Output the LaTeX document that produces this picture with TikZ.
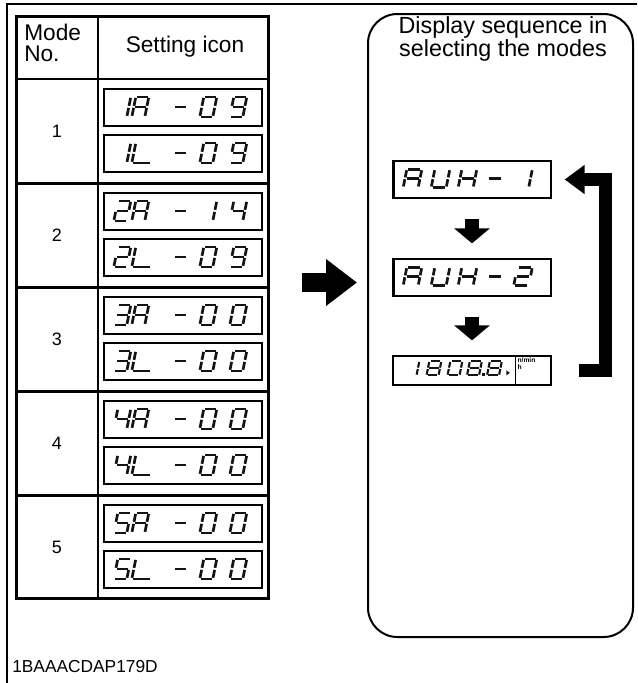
\documentclass[tikz,border=0pt]{standalone}
\usepackage{fontspec}
\setmainfont{Liberation Sans}
\usetikzlibrary{arrows.meta,calc,positioning}

\definecolor{lcdink}{RGB}{20,20,20}

%% seven-segment cell, 10 x 20, y running downwards
\def\sega{(1,0) -- (9,0)}
\def\segb{(10,1) -- (10,9)}
\def\segc{(10,11) -- (10,19)}
\def\segd{(1,20) -- (9,20)}
\def\segD{(1,20) -- (14,20)}
\def\sege{(0,11) -- (0,19)}
\def\segf{(0,1) -- (0,9)}
\def\segg{(1,10) -- (9,10)}

\newcommand\deflcd[2]{\expandafter\def\csname lcd#1\endcsname{#2}}
\deflcd{0}{a,b,c,d,e,f}
\deflcd{1}{b,c}
\deflcd{2}{a,b,g,e,d}
\deflcd{3}{a,b,g,c,d}
\deflcd{4}{f,g,b,c}
\deflcd{5}{a,f,g,c,d}
\deflcd{8}{a,b,c,d,e,f,g}
\deflcd{9}{a,b,c,d,f,g}
\deflcd{A}{a,b,c,e,f,g}
\deflcd{L}{f,e,D}
\deflcd{U}{b,c,d,e,f}
\deflcd{H}{b,c,e,f,g}
\deflcd{-}{g}

%% #1 top left, #2 xscale, #3 yscale, #4 character
\newcommand\lcdchar[4]{%
  \edef\lcdsegs{\csname lcd#4\endcsname}%
  \begin{scope}[shift={#1},xslant=0.2,xscale=#2,yscale=#3]
    \foreach \sg in \lcdsegs {\draw[lcdseg] \csname seg\sg\endcsname;}
  \end{scope}}

%% one setting icon: node name, then the four digits
\newcommand\iconline[5]{%
  \foreach \dx/\ch in {14.5/#2,32.5/#3,72.5/-,100.5/#4,130.5/#5}
    {\lcdchar{($(#1.north west)+(\dx,8.5)$)}{1.3}{1}{\ch}}}

\begin{document}
\begin{tikzpicture}[x=0.75pt,y=-0.75pt,>=Stealth,
  tablerule/.style={line width=2.25pt},
  thinrule/.style={line width=1.5pt},
  headtext/.style={font=\fontsize{17}{15.75}\selectfont,inner sep=0pt},
  titletext/.style={font=\fontsize{17.5}{15.75}\selectfont,inner sep=0pt,align=center},
  rownum/.style={font=\fontsize{13.5}{15}\selectfont,inner sep=0pt},
  lcdbox/.style={draw,line width=1pt,minimum width=118.5pt,minimum height=27.75pt,inner sep=0pt},
  lcdseg/.style={lcdink,line width=2pt},
  panelbox/.style={draw,line width=1.5pt,rounded corners=22pt,inner sep=0pt,
    minimum width=198.75pt,minimum height=467.25pt},
  blockarrow/.style={line width=10.5pt,-{Triangle[length=11.25pt,width=26.25pt]}},
  feedarrow/.style={line width=14.25pt,-{Triangle[length=23.25pt,width=33.75pt]}},
  backarrow/.style={line width=9.75pt,miter limit=10,-{Triangle[length=15pt,width=21pt]}}]

\useasboundingbox (0,0) rectangle (637,683);

%% ── page frame ───────────────────────────────────────────────────────────────
\draw[line width=1.1pt] (7,683) -- (7,4) -- (637,4);

%% ════════════════════════════════════════════════════════════════════════════
%%  TABLE — modes and setting icons
%% ════════════════════════════════════════════════════════════════════════════
\draw[tablerule] (16,16) rectangle (268,598);
\draw[thinrule] (98,16) -- (98,598);
\draw[thinrule] (16,79) -- (268,79);
\foreach \y in {183,287,391,495}
  \draw[tablerule] (16,\y) -- (268,\y);

\node[headtext,anchor=north west,align=left] (modehead) at (24,23.5) {Mode\\No.};
\node[headtext,anchor=base] (iconhead) at (185,52) {Setting icon};

%% rows: number, top, right icon digits, left icon digits
\foreach \n/\rowy/\ra/\rb/\rc/\rd/\lc/\ld in
  {1/79/1/A/0/9/0/9, 2/183/2/A/1/4/0/9, 3/287/3/A/0/0/0/0,
   4/391/4/A/0/0/0/0, 5/495/5/A/0/0/0/0}{
  \node[rownum] (mode\n) at (57,\rowy+52) {\n};
  \node[lcdbox] (icon\n-R) at (183,\rowy+28.5) {};
  \node[lcdbox] (icon\n-L) at (183,\rowy+74.5) {};
  \iconline{icon\n-R}{\ra}{\rb}{\rc}{\rd}
  \iconline{icon\n-L}{\ra}{L}{\lc}{\ld}
}

%% ── arrow into the panel ─────────────────────────────────────────────────────
\coordinate (feedin) at (302,282.5);

%% ════════════════════════════════════════════════════════════════════════════
%%  PANEL — display sequence
%% ════════════════════════════════════════════════════════════════════════════
\node[panelbox] (panel) at (500.5,325.5) {};
\node[titletext,anchor=north] (title) at (503,16)
  {Display sequence in\\selecting the modes};

\draw[feedarrow] (feedin) -- ($(feedin -| panel.west)+(-10,0)$);

%% AUX-1
\node[lcdbox] (aux1) at (472,179.5) {};
\draw[line width=2pt] ($(aux1.north west)+(1,0)$) -- ($(aux1.south west)+(1,0)$);
\foreach \dx/\ch in {14.5/A,42.5/U,69.5/H,96.5/-,125/1}
  {\lcdchar{($(aux1.north west)+(\dx,9)$)}{1.5}{0.9}{\ch}}

%% AUX-2
\node[lcdbox] (aux2) at (472,277.5) {};
\draw[line width=2pt] ($(aux2.north west)+(1,0)$) -- ($(aux2.south west)+(1,0)$);
\foreach \dx/\ch in {14.5/A,42.5/U,69.5/H,96.5/-,125/2}
  {\lcdchar{($(aux2.north west)+(\dx,9)$)}{1.5}{0.9}{\ch}}

%% engine speed display
\node[lcdbox,minimum height=21.75pt] (rpm) at (472,370.5) {};
\draw[line width=1pt] ($(rpm.north west)+(123,0)$) -- ($(rpm.south west)+(123,0)$);
\begin{scope}[lcdseg/.append style={line width=1.6pt}]
\foreach \dx/\ch in {15/1,37/8,58/0,77.5/8,97.5/8}
  {\lcdchar{($(rpm.north west)+(\dx,6)$)}{1.2}{0.7}{\ch}}
\end{scope}
\fill[lcdink] ($(rpm.north west)+(90,18)$) rectangle +(2.5,2.5);
\fill[lcdink] ($(rpm.north west)+(114,15)$) -- +(3.5,2.5) -- +(0,5) -- cycle;
\node[font=\fontsize{5}{5.5}\selectfont\bfseries,inner sep=0pt,align=left,anchor=north west]
  (unit) at ($(rpm.north west)+(125,2)$) {n/min\\h};

%% sequence arrows
\draw[blockarrow] ($(aux1.south)+(0,20)$) -- ($(aux2.north)+(0,-15)$);
\draw[blockarrow] ($(aux2.south)+(0,20)$) -- ($(rpm.north)+(0,-15)$);
\draw[backarrow] ($(rpm.east)+(27,0)$) -| ($(aux1.east)+(54,0)$) -- ($(aux1.east)+(13,0)$);

%% ── picture code ─────────────────────────────────────────────────────────────
\node[font=\fontsize{13}{15}\selectfont,inner sep=0pt,anchor=base west] (code)
  at (12,672) {1BAAACDAP179D};

\end{tikzpicture}
\end{document}
